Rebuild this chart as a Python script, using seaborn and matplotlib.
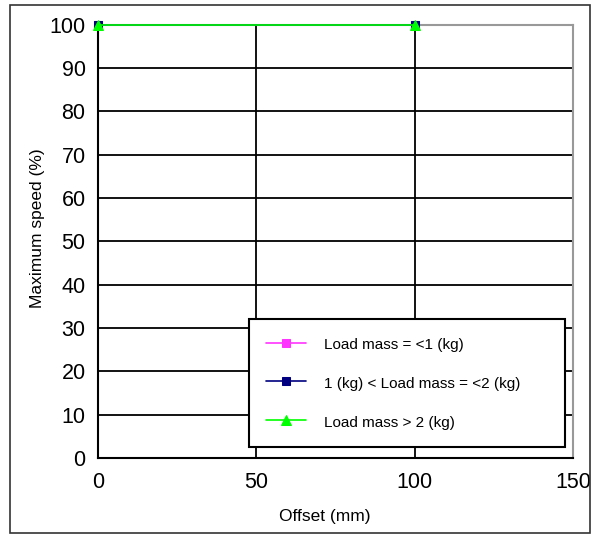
import matplotlib
matplotlib.use("Agg")
import matplotlib.pyplot as plt
import seaborn as sns
from matplotlib.patches import Rectangle

offset = [0, 100]
speed_light = [100, 100]
speed_mid = [100, 100]
speed_heavy = [100, 100]
labels = ["Load mass = <1 (kg)", "1 (kg) < Load mass = <2 (kg)", "Load mass > 2 (kg)"]

sns.set_style("white")
plt.rcParams["font.family"] = ["Liberation Sans", "DejaVu Sans"]
plt.rcParams["text.color"] = "black"
plt.rcParams["axes.labelcolor"] = "black"
plt.rcParams["xtick.color"] = "black"
plt.rcParams["ytick.color"] = "black"

fig = plt.figure(figsize=(5.98, 5.38), dpi=100)
ax = fig.add_axes([0.164, 0.149, 0.794, 0.805])

# thin frame around the whole picture
fig.patches.append(Rectangle((10 / 598, 5 / 538), 580 / 598, 528 / 538,
                             transform=fig.transFigure, fill=False,
                             edgecolor="#333333", linewidth=1.2))

styles = [("#ff33ff", "s", 6, speed_light), ("#000080", "s", 6, speed_mid),
          ("#00ff00", "^", 7, speed_heavy)]
for (c, m, ms, vals), lab in zip(styles, labels):
    sns.lineplot(x=offset, y=vals, ax=ax, color=c, marker=m, markersize=ms,
                 markeredgecolor=c, linewidth=1.2, label=lab, clip_on=False,
                 zorder=4)

ax.set_xlim(0, 150)
ax.set_ylim(0, 100)
ax.set_xticks([0, 50, 100, 150])
ax.set_yticks(range(0, 101, 10))
ax.grid(True, color="black", linewidth=1.3)
ax.set_axisbelow(True)
ax.tick_params(axis="x", length=0, pad=10, labelsize=15.5)
ax.tick_params(axis="y", length=0, pad=9, labelsize=15.5)
for s in ["left", "bottom"]:
    ax.spines[s].set_color("black")
    ax.spines[s].set_linewidth(1.5)
for s in ["top", "right"]:
    ax.spines[s].set_color("#999999")
    ax.spines[s].set_linewidth(1.5)

ax.set_xlabel("Offset (mm)", fontsize=12.5)
ax.set_ylabel("Maximum speed (%)", fontsize=12.5)
ax.xaxis.set_label_coords(0.478, -0.117)
ax.yaxis.set_label_coords(-0.112, 0.531)

leg = ax.legend(loc="lower left", bbox_to_anchor=(0.318, 0.025, 0.665, 0.3),
                mode="expand", fontsize=11, frameon=True, fancybox=False,
                handlelength=2.6, handleheight=1.3, handletextpad=1.2,
                labelspacing=1.45, borderpad=1.1, borderaxespad=0)
leg.get_frame().set_edgecolor("black")
leg.get_frame().set_linewidth(1.5)
leg.get_frame().set_alpha(1)

fig.savefig("out.png", dpi=100)
